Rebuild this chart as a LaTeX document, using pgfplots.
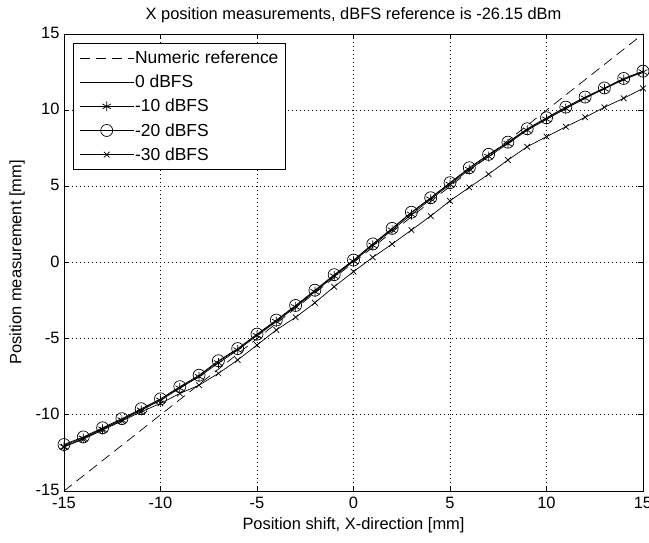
\documentclass[border=0pt]{standalone}
\usepackage{fontspec}
\setmainfont{Liberation Sans}
\usepackage{pgfplots}
\pgfplotsset{compat=1.18}
\begin{document}
\begin{tikzpicture}
\useasboundingbox (-64bp,-52bp) rectangle (585bp,491bp);
\begin{axis}[
  at={(0,0)}, anchor=south west,
  scale only axis, width=579bp, height=457bp,
  xmin=-15, xmax=15, ymin=-15, ymax=15,
  xtick={-15,-10,-5,0,5,10,15}, ytick={-15,-10,-5,0,5,10,15},
  /pgf/number format/assume math mode=true,
  tick align=inside, major tick length=5bp,
  xtick pos=both, ytick pos=both,
  axis line style={black, line width=0.8bp},
  every tick/.style={black, line width=0.8bp},
  grid=major,
  major grid style={black, line width=0.8bp, dash pattern=on 0.8bp off 3.2bp},
  every tick label/.append style={font=\fontsize{16.5}{19}\selectfont},
  xticklabel style={yshift=-3bp},
  yticklabel style={xshift=-1bp, yshift=1bp},
  title={X position measurements, dBFS reference is -26.15 dBm},
  title style={font=\fontsize{16.5}{19}\selectfont, yshift=2bp},
  xlabel={Position shift, X-direction [mm]},
  ylabel={Position measurement [mm]},
  label style={font=\fontsize{16.5}{19}\selectfont},
  xlabel style={yshift=-2bp},
  ylabel style={yshift=4bp},
  legend style={at={(0.0155,0.981)}, anchor=north west, draw=black, line width=0.8bp,
    font=\fontsize{17.5}{20}\selectfont, row sep=6bp, inner xsep=6bp, inner ysep=6bp,
    nodes={inner xsep=1bp}},
  legend cell align=left,
  legend image code/.code={%
    \draw[mark repeat=2, mark phase=2] plot coordinates {(0bp,0bp) (27bp,0bp) (54bp,0bp)};},
  every axis plot/.append style={black, line width=0.7bp},
]
\addplot[dash pattern=on 10bp off 6bp] coordinates {(-15,-15) (15,15)};
\addlegendentry{Numeric reference}

\addplot[solid] coordinates {
(-15,-12.0) (-14,-11.5) (-13,-10.9) (-12,-10.3) (-11,-9.65) (-10,-9.0)
(-9,-8.2) (-8,-7.45) (-7,-6.5) (-6,-5.7) (-5,-4.75) (-4,-3.82) (-3,-2.86)
(-2,-1.87) (-1,-0.85) (0,0.12) (1,1.19) (2,2.2) (3,3.27) (4,4.21) (5,5.2)
(6,6.18) (7,7.05) (8,7.86) (9,8.74) (10,9.46) (11,10.16) (12,10.82)
(13,11.43) (14,12.04) (15,12.53)};
\addlegendentry{0 dBFS}

\addplot[solid, mark=asterisk, mark size=5bp, mark options={solid}] coordinates {
(-15,-12.1) (-14,-11.55) (-13,-10.95) (-12,-10.35) (-11,-9.7) (-10,-9.05)
(-9,-8.25) (-8,-7.5) (-7,-6.6) (-6,-5.75) (-5,-4.8) (-4,-3.88) (-3,-2.92)
(-2,-1.92) (-1,-0.9) (0,0.08) (1,1.12) (2,2.12) (3,3.15) (4,4.15) (5,5.12)
(6,6.1) (7,6.95) (8,7.8) (9,8.68) (10,9.4) (11,10.1) (12,10.78)
(13,11.4) (14,12.0) (15,12.5)};
\addlegendentry{-10 dBFS}

\addplot[solid, mark=o, mark size=6bp, mark options={solid}] coordinates {
(-15,-11.95) (-14,-11.45) (-13,-10.85) (-12,-10.25) (-11,-9.6) (-10,-8.95)
(-9,-8.15) (-8,-7.4) (-7,-6.45) (-6,-5.65) (-5,-4.7) (-4,-3.78) (-3,-2.82)
(-2,-1.82) (-1,-0.8) (0,0.16) (1,1.22) (2,2.24) (3,3.3) (4,4.25) (5,5.24)
(6,6.22) (7,7.1) (8,7.9) (9,8.78) (10,9.5) (11,10.2) (12,10.86)
(13,11.46) (14,12.08) (15,12.56)};
\addlegendentry{-20 dBFS}

\addplot[solid, mark=x, mark size=4bp, mark options={solid}] coordinates {
(-15,-12.1) (-14,-11.6) (-13,-11.0) (-12,-10.4) (-11,-9.8) (-10,-9.25)
(-9,-8.6) (-8,-8.05) (-7,-7.28) (-6,-6.4) (-5,-5.42) (-4,-4.43) (-3,-3.6)
(-2,-2.64) (-1,-1.59) (0,-0.6) (1,0.34) (2,1.21) (3,2.13) (4,3.05) (5,4.05)
(6,4.93) (7,5.8) (8,6.73) (9,7.6) (10,8.26) (11,8.91) (12,9.53)
(13,10.19) (14,10.78) (15,11.43)};
\addlegendentry{-30 dBFS}
\end{axis}
\end{tikzpicture}
\end{document}
